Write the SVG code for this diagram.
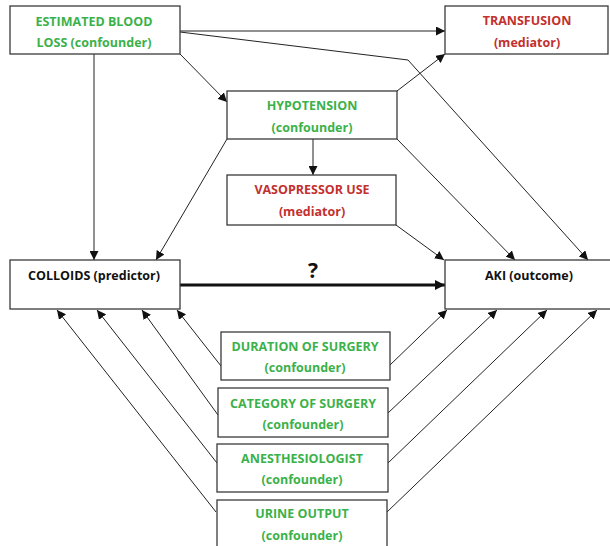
<svg xmlns="http://www.w3.org/2000/svg" width="610" height="546" viewBox="0 0 610 546">
<style>
.box{fill:#fff;stroke:#3a3a3a;stroke-width:1.3}
.t{font-family:"Open Sans","Liberation Sans",sans-serif;font-weight:bold;font-size:12.5px;text-anchor:middle;dominant-baseline:central}
.g{fill:#3bb14a}
.r{fill:#c3302e}
.k{fill:#111}
.c{stroke:#222;stroke-width:1;fill:none;marker-end:url(#a)}
</style>
<defs>
<marker id="a" viewBox="0 0 10 10" refX="10" refY="5" markerWidth="9" markerHeight="9" markerUnits="userSpaceOnUse" orient="auto">
<path d="M0,0 L10,5 L0,10 z" fill="#111"/>
</marker>
<marker id="b" viewBox="0 0 10 10" refX="10" refY="5" markerWidth="10" markerHeight="10" markerUnits="userSpaceOnUse" orient="auto">
<path d="M0,0 L10,5 L0,10 z" fill="#111"/>
</marker>
</defs>
<rect width="610" height="546" fill="#fff"/>
<g id="connectors">
<line class="c" x1="180" y1="31" x2="445" y2="31"/>
<polyline class="c" points="180,32 408,60 588,260"/>
<line class="c" x1="180" y1="54" x2="227" y2="102"/>
<line class="c" x1="94" y1="54" x2="94" y2="260"/>
<line class="c" x1="397" y1="91" x2="445" y2="54"/>
<line class="c" x1="227" y1="139" x2="156" y2="260"/>
<line class="c" x1="397" y1="139" x2="515" y2="260"/>
<line class="c" x1="313" y1="139" x2="313" y2="175"/>
<line class="c" x1="396" y1="225" x2="444" y2="260"/>
<line x1="180" y1="285" x2="445" y2="285" stroke="#111" stroke-width="3" marker-end="url(#b)"/>
<line class="c" x1="221" y1="366" x2="177" y2="310"/>
<line class="c" x1="218" y1="415" x2="142" y2="310"/>
<line class="c" x1="217" y1="463" x2="97" y2="310"/>
<line class="c" x1="216" y1="512" x2="57" y2="310"/>
<line class="c" x1="390" y1="365" x2="447" y2="310"/>
<line class="c" x1="388" y1="413" x2="497" y2="310"/>
<line class="c" x1="388" y1="463" x2="547" y2="310"/>
<line class="c" x1="387" y1="512" x2="597" y2="310"/>
<text x="313" y="270" class="t k" style="font-size:21px">?</text>
</g>
<g id="ebl">
<rect class="box" x="10" y="6" width="170" height="48"/>
<text x="94" y="21" class="t g">ESTIMATED BLOOD</text>
<text x="94" y="42" class="t g">LOSS (confounder)</text>
</g>
<g id="transfusion">
<rect class="box" x="445" y="6" width="163" height="48"/>
<text x="527" y="20" class="t r">TRANSFUSION</text>
<text x="527" y="42" class="t r">(mediator)</text>
</g>
<g id="hypotension">
<rect class="box" x="227" y="91" width="170" height="48"/>
<text x="312" y="105" class="t g">HYPOTENSION</text>
<text x="312" y="127" class="t g">(confounder)</text>
</g>
<g id="vasopressor">
<rect class="box" x="227" y="175" width="169" height="50"/>
<text x="312" y="189" class="t r">VASOPRESSOR USE</text>
<text x="312" y="211" class="t r">(mediator)</text>
</g>
<g id="colloids">
<rect class="box" x="10" y="260" width="170" height="49"/>
<text x="94" y="275" class="t k">COLLOIDS (predictor)</text>
</g>
<g id="aki">
<rect class="box" x="445" y="260" width="168" height="49"/>
<text x="529" y="275" class="t k">AKI (outcome)</text>
</g>
<g id="duration">
<rect class="box" x="221" y="332" width="169" height="48"/>
<text x="305" y="346" class="t g">DURATION OF SURGERY</text>
<text x="305" y="367" class="t g">(confounder)</text>
</g>
<g id="category">
<rect class="box" x="218" y="388" width="170" height="49"/>
<text x="303" y="403" class="t g">CATEGORY OF SURGERY</text>
<text x="303" y="424" class="t g">(confounder)</text>
</g>
<g id="anesthesiologist">
<rect class="box" x="217" y="444" width="171" height="48"/>
<text x="302" y="458" class="t g">ANESTHESIOLOGIST</text>
<text x="302" y="479" class="t g">(confounder)</text>
</g>
<g id="urine">
<rect class="box" x="217" y="500" width="170" height="52"/>
<text x="302" y="513" class="t g">URINE OUTPUT</text>
<text x="302" y="535" class="t g">(confounder)</text>
</g>
</svg>
